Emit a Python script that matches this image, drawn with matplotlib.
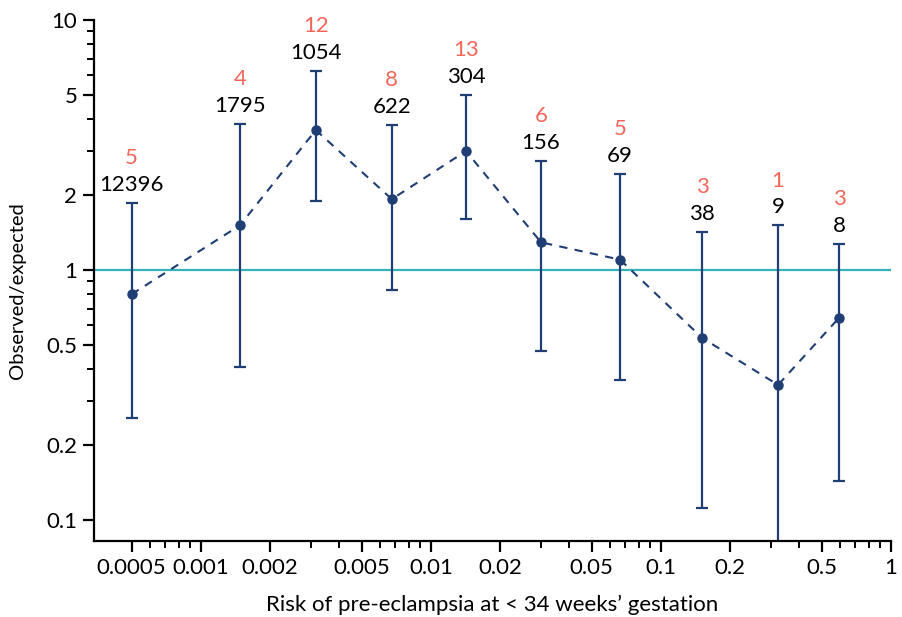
import matplotlib
matplotlib.use("Agg")
import matplotlib.pyplot as plt
from matplotlib.ticker import FixedLocator, NullFormatter

plt.rcParams['font.family'] = ['Lato', 'DejaVu Sans']

risk = [0.0005, 0.00148, 0.00316, 0.00676, 0.0142, 0.0301, 0.0664, 0.151, 0.323, 0.594]
oe = [0.80, 1.51, 3.63, 1.92, 2.99, 1.29, 1.10, 0.535, 0.347, 0.643]
lower = [0.256, 0.409, 1.89, 0.83, 1.60, 0.474, 0.363, 0.112, 0.05, 0.143]
upper = [1.85, 3.84, 6.25, 3.80, 5.01, 2.73, 2.42, 1.42, 1.51, 1.27]
n_total = ['12396', '1795', '1054', '622', '304', '156', '69', '38', '9', '8']
n_events = ['5', '4', '12', '8', '13', '6', '5', '3', '1', '3']

x_major = [0.0005, 0.001, 0.002, 0.005, 0.01, 0.02, 0.05, 0.1, 0.2, 0.5, 1]
x_major_labels = ['0.0005', '0.001', '0.002', '0.005', '0.01', '0.02', '0.05', '0.1', '0.2', '0.5', '1']
x_minor = [0.0006, 0.0007, 0.0008, 0.0009, 0.003, 0.004, 0.006, 0.007, 0.008, 0.009,
           0.03, 0.04, 0.06, 0.07, 0.08, 0.09, 0.3, 0.4, 0.6, 0.7, 0.8, 0.9]
y_major = [0.1, 0.2, 0.5, 1, 2, 5, 10]
y_major_labels = ['0.1', '0.2', '0.5', '1', '2', '5', '10']
y_minor = [0.3, 0.4, 0.6, 0.7, 0.8, 0.9, 3, 4, 6, 7, 8, 9]

BLUE = '#1F3E74'
TEAL = '#35B3B8'
RED = '#F2665A'

fig = plt.figure(figsize=(9.02, 6.17), dpi=100)
ax = fig.add_axes([94/902, 1-541/617, (891-94)/902, (541-20)/617])
ax.set_xscale('log')
ax.set_yscale('log')
ax.set_xlim(0.000343, 1)
ax.set_ylim(0.0824, 10)

ax.axhline(1, color=TEAL, lw=1.6, zorder=1)

yerr = [[o - l for o, l in zip(oe, lower)], [u - o for o, u in zip(oe, upper)]]
ax.errorbar(risk, oe, yerr=yerr, fmt='none', ecolor=BLUE, elinewidth=1.6,
            capsize=4.5, capthick=1.6, zorder=2, clip_on=True)
ax.plot(risk, oe, ls=(0, (4, 3.5)), color=BLUE, lw=1.5, zorder=3)
ax.plot(risk, oe, 'o', color=BLUE, ms=6.5, zorder=4)

for x, u, nt, ne in zip(risk, upper, n_total, n_events):
    ax.annotate(nt, (x, u), xytext=(0, 6), textcoords='offset points',
                ha='center', va='bottom', fontsize=16, color='black')
    ax.annotate(ne, (x, u), xytext=(0, 25), textcoords='offset points',
                ha='center', va='bottom', fontsize=16, color=RED)

for s in ['top', 'right']:
    ax.spines[s].set_visible(False)
for s in ['left', 'bottom']:
    ax.spines[s].set_linewidth(1.6)

ax.xaxis.set_major_locator(FixedLocator(x_major))
ax.set_xticklabels(x_major_labels)
ax.xaxis.set_minor_locator(FixedLocator(x_minor))
ax.xaxis.set_minor_formatter(NullFormatter())
ax.yaxis.set_major_locator(FixedLocator(y_major))
ax.set_yticklabels(y_major_labels)
ax.yaxis.set_minor_locator(FixedLocator(y_minor))
ax.yaxis.set_minor_formatter(NullFormatter())

ax.tick_params(which='major', length=8, width=1.6, labelsize=16, pad=4)
ax.tick_params(which='minor', length=5, width=1.4)

ax.set_xlabel('Risk of pre-eclampsia at < 34 weeks\u2019 gestation', fontsize=16, labelpad=12)
ax.set_ylabel('Observed/expected', fontsize=14.5)
ax.yaxis.set_label_coords(-0.085, 0.48)

fig.savefig('out.png', dpi=100)
